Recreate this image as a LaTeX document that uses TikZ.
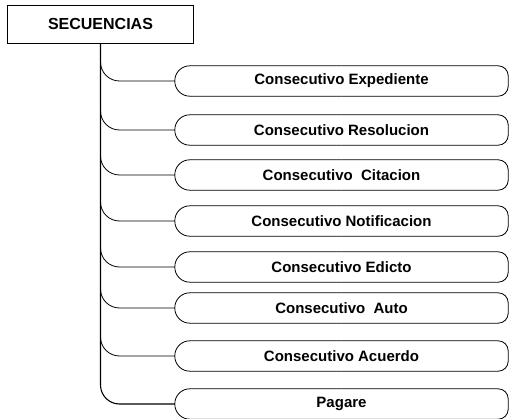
\documentclass[tikz,border=0pt]{standalone}
\usepackage{fontspec}
\setmainfont{Liberation Sans}
\begin{document}
\begin{tikzpicture}[x=1pt,y=-1pt,
  itembox/.style={minimum width=333pt,minimum height=30pt,inner sep=0pt,
    font=\fontsize{15}{18}\selectfont\bfseries},
  headbox/.style={draw,line width=0.8pt,minimum width=186pt,minimum height=38pt,inner sep=0pt,
    font=\fontsize{16}{19}\selectfont\bfseries},
  outline/.style={line width=0.8pt},
  branch/.style={line width=0.8pt,rounded corners=19pt},
  trunk/.style={line width=1.1pt,rounded corners=19pt}]
\useasboundingbox (0,0) rectangle (510,419);
\node[headbox] (S) at (100.5,24) {SECUENCIAS};
\foreach \y/\t/\n in {81/Consecutivo Expediente/a,
                      130/Consecutivo Resolucion/b,
                      175/Consecutivo\ \ Citacion/c,
                      221/Consecutivo Notificacion/d,
                      267/Consecutivo Edicto/e,
                      308/Consecutivo\ \ Auto/f,
                      356/Consecutivo Acuerdo/g,
                      404/Pagare/h}{
  \node[itembox] (\n) at (341.5,\y) {\t};
  \draw[outline,rounded corners=15pt] (\n.north) -- (\n.north west) -- (\n.south west) -- (\n.south);
  \draw[outline,rounded corners=10pt] (\n.north) -- (\n.north east) -- (\n.south east) -- (\n.south);
}
\draw[trunk] (S.south) |- (h.west);
\foreach \n in {a,b,c,d,e,f,g}{
  \draw[branch] ([yshift=24pt]S.south |- \n.west) |- (\n.west);
}
\end{tikzpicture}
\end{document}
